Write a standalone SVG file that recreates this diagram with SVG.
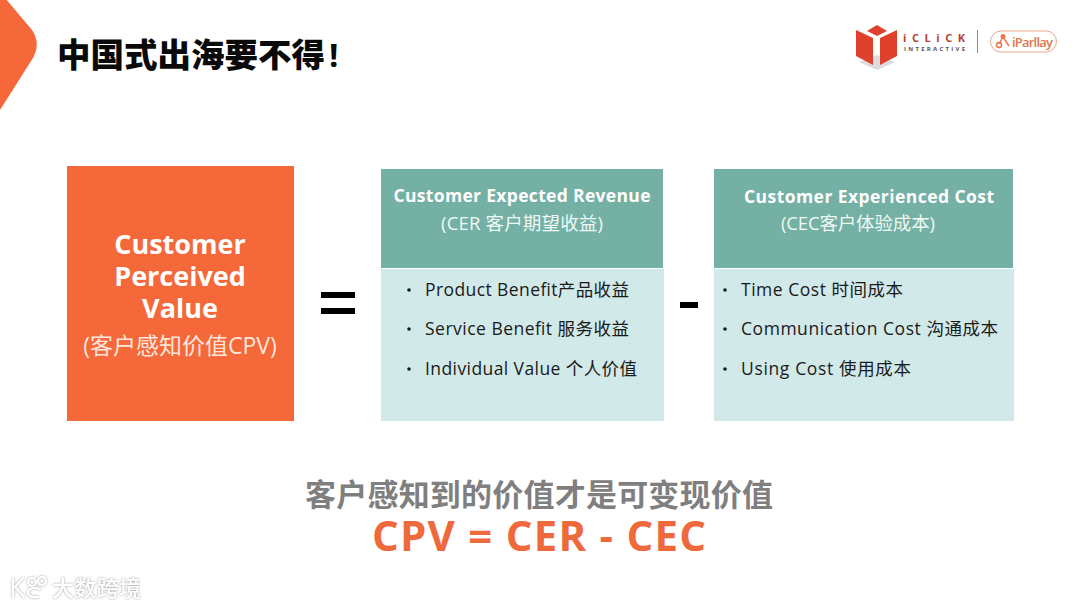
<svg xmlns="http://www.w3.org/2000/svg" width="1080" height="608" viewBox="0 0 1080 608">
<defs>
<filter id="glow" x="-20%" y="-30%" width="140%" height="160%"><feDropShadow dx="0" dy="0" stdDeviation="1.100" flood-color="#8a8a8a" flood-opacity=".9"/></filter>
</defs>
<style>
text{font-family:"Open Sans","Noto Sans CJK SC",sans-serif}
.b{font-weight:700}
.w{fill:#fff}
.h{font-size:17.5px;font-weight:700;fill:#fff;text-anchor:middle}
.s{font-size:18.500px;fill:#eef8f5}
.l{font-size:17.5px;fill:#1a1a1a}
.dot{fill:#1a1a1a}
.cjk{font-family:"Noto Sans CJK SC",sans-serif}
.wm{font-size:22px;fill:#fff;font-weight:500}
.wl{fill:none;stroke:#fff;stroke-width:2.200;stroke-linecap:round}
</style>
<rect width="1080" height="608" fill="#fff"/>
<g id="corner"><path d="M0 -2H5L32 30Q41 43 33 58L0 110Z" fill="#f4683a"/></g>
<g id="title"><text x="57" y="67" font-size="33.500" class="cjk" fill="#0a0a0a" style="font-weight:900">中国式出海要不得</text><text x="329" y="67" font-size="33" fill="#0a0a0a" class="b">!</text></g>
<g id="logo-iclick">
<path d="M859 62L877 70L895 62L877 55Z" fill="#dcdcdc"/>
<path d="M856 30L873 38V65L856 56Z" fill="#e0412c"/>
<path d="M897 30L880 38V65L897 56Z" fill="#e0412c"/>
<path d="M877 25L887 31L877 36L867 31Z" fill="#e0412c"/>
<text x="903" y="42" font-size="11" class="b" fill="#b5432f" textLength="62">iCLiCK</text>
<text x="904" y="51" font-size="6" class="b" fill="#555" textLength="61">INTERACTIVE</text>
<rect x="977" y="30" width="1" height="23" fill="#888"/>
<rect x="990.500" y="31" width="66" height="21" rx="10.500" fill="#fff" stroke="#e9a78d"/>
<circle cx="999" cy="45" r="2.500" fill="none" stroke="#e77a4f" stroke-width="1.500"/>
<circle cx="1003" cy="36.500" r="2.500" fill="#e77a4f"/>
<path d="M999 44L1003 37L1009 46" fill="none" stroke="#e77a4f" stroke-width="1.500"/>
<text x="1012" y="47" font-size="13" font-weight="600" fill="#e0764c" textLength="41">iParllay</text>
</g>
<g id="node-cpv">
<rect x="67" y="166" width="227" height="255" fill="#f4683a"/>
<text font-size="27" class="b w" text-anchor="middle"><tspan x="180" y="254">Customer</tspan><tspan x="180" y="286">Perceived</tspan><tspan x="180" y="318">Value</tspan></text>
<text x="180" y="354" font-size="23" fill="#fde6dc" text-anchor="middle">(客户感知价值CPV)</text>
</g>
<g id="equals"><rect x="321" y="292" width="34" height="6" fill="#000"/><rect x="321" y="308" width="34" height="6" fill="#000"/></g>
<g id="node-cer">
<rect x="381" y="269" width="283" height="152" fill="#d2e9ea"/>
<rect x="381" y="169" width="282" height="99" fill="#74b0a4"/>
<text x="522" y="202" class="h" textLength="257">Customer Expected Revenue</text>
<text x="441" y="230" class="s" textLength="162">(CER 客户期望收益)</text>
<circle cx="409" cy="290" r="1.800" class="dot"/>
<text x="425" y="296" class="l" textLength="204">Product Benefit产品收益</text>
<circle cx="409" cy="329" r="1.800" class="dot"/>
<text x="425" y="335" class="l" textLength="204">Service Benefit 服务收益</text>
<circle cx="409" cy="369" r="1.800" class="dot"/>
<text x="425" y="375" class="l" textLength="212">Individual Value 个人价值</text>
</g>
<g id="minus"><rect x="680" y="302" width="18" height="6" fill="#000"/></g>
<g id="node-cec">
<rect x="714" y="269" width="300" height="152" fill="#d2e9ea"/>
<rect x="714" y="169" width="299" height="99" fill="#74b0a4"/>
<text x="869" y="203" class="h" textLength="250">Customer Experienced Cost</text>
<text x="781" y="230" class="s" textLength="154">(CEC客户体验成本)</text>
<circle cx="725" cy="290" r="1.800" class="dot"/>
<text x="741" y="296" class="l" textLength="162">Time Cost 时间成本</text>
<circle cx="725" cy="329" r="1.800" class="dot"/>
<text x="741" y="335" class="l" textLength="257">Communication Cost 沟通成本</text>
<circle cx="725" cy="369" r="1.800" class="dot"/>
<text x="741" y="375" class="l" textLength="170">Using Cost 使用成本</text>
</g>
<g id="summary">
<text x="305" y="506" font-size="31" fill="#7f7f7f" class="cjk" textLength="468" style="font-weight:700">客户感知到的价值才是可变现价值</text>
<text x="372" y="551" font-size="42" class="b" fill="#ee6a3c" textLength="334">CPV = CER - CEC</text>
</g>
<g id="watermark" filter="url(#glow)">
<path class="wl" d="M13 579V597M23 578L15 587L24 597M40 589Q30 586 28 592Q28 598 38 597"/>
<circle class="wl" cx="32" cy="582" r="4"/>
<circle class="wl" cx="42" cy="581" r="4"/>
<text x="52" y="596" class="wm cjk" textLength="89">大数跨境</text>
</g>
</svg>
